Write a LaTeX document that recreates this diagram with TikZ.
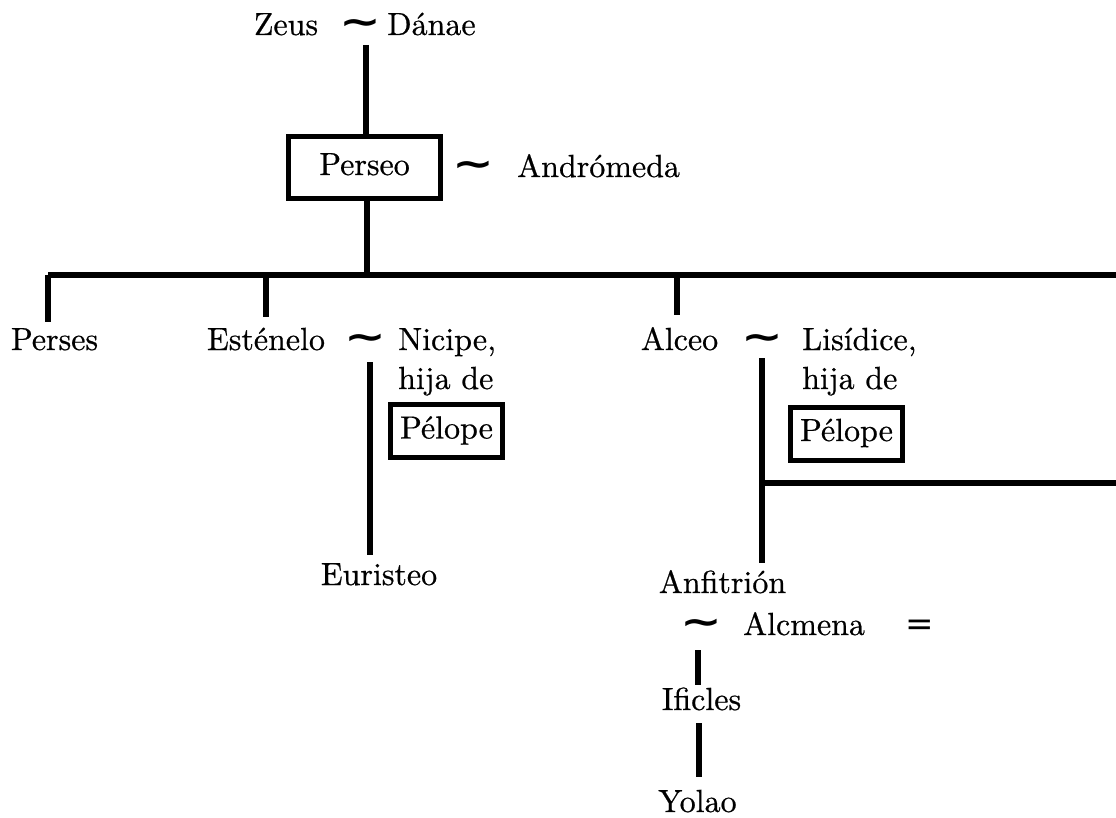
\documentclass[tikz,border=0pt]{standalone}
\usepackage{fontspec}
\newfontfamily\treefont{lmroman10-regular.otf}[FakeBold=0.6]
\newfontfamily\signfont{DejaVu Sans}
% a wide, low tilde marking a union
\newcommand{\wed}{\scalebox{1.35}[1]{∼}}
\begin{document}
\begin{tikzpicture}[x=1pt,y=-1pt,
  person/.style={inner sep=0pt,text height=22pt,text depth=7pt,
    font=\treefont\fontsize{32}{38}\selectfont},
  union/.style={inner sep=0pt,font=\signfont\bfseries\fontsize{37}{42}\selectfont},
  equal/.style={inner sep=0pt,font=\signfont\fontsize{34}{40}\selectfont},
  framed/.style={person,draw,line width=5pt},
  link/.style={line width=5.5pt}]
\useasboundingbox (0,0) rectangle (1116,818);

% Zeus and Danae
\node[person,anchor=base] (zeus) at (286,35) {Zeus};
\node[union] (t0) at (360,27) {\wed};
\node[person,anchor=base west] (danae) at (387,35) {Dánae};
\coordinate (u0) at (366,45);

% Perseo and Andromeda
\node[framed,minimum width=152pt,minimum height=62pt] (perseo) at (364.5,167.5) {Perseo};
\node[union] (t1) at (473,169) {\wed};
\node[person,anchor=base west] (andromeda) at (517,177) {Andrómeda};

% bus of the children of Perseo
\coordinate (busL) at (48,275);
\coordinate (busR) at (1116,275);

\node[person,anchor=base] (perses) at (54.5,350) {Perses};

\node[person,anchor=base] (estenelo) at (266,350) {Esténelo};
\node[union] (t2) at (365,342) {\wed};
\node[person,anchor=base west] (nicipe) at (398,350) {Nicipe,};
\node[person,anchor=base west] (hija1) at (398,389) {hija de};
\node[framed,minimum width=112pt,minimum height=53pt] (pelope1) at (446.5,431) {Pélope};
\coordinate (u2) at (370,362);
\node[person,anchor=base] (euristeo) at (379,585) {Euristeo};

\node[person,anchor=base] (alceo) at (679.5,350) {Alceo};
\node[union] (t3) at (762,342) {\wed};
\node[person,anchor=base west] (lisidice) at (802,350) {Lisídice,};
\node[person,anchor=base west] (hija2) at (802,389) {hija de};
\node[framed,minimum width=112pt,minimum height=53pt] (pelope2) at (846.5,433.5) {Pélope};
\coordinate (u3) at (762,358);
\coordinate (brL) at (762,483);
\coordinate (brR) at (1116,483);

\node[person,anchor=base] (anfitrion) at (722.5,593) {Anfitrión};
\node[union] (t4) at (701,627) {\wed};
\node[person,anchor=base west] (alcmena) at (743,635) {Alcmena};
\node[equal] (eq) at (920,628) {=};
\coordinate (u4) at (698,650);
\node[person,anchor=base] (ificles) at (701.5,710) {Ificles};
\node[person,anchor=base] (yolao) at (697.5,812) {Yolao};

% connectors
\draw[link] (u0) -- (u0 |- perseo.north);
\draw[link] ([xshift=2.5pt]perseo.south) -- ([xshift=2.5pt]perseo.south |- busL);
\draw[link] (busL) -- (busR);
\draw[link] (busL) -- ([yshift=6pt]busL |- perses.north);
\draw[link] (estenelo.north |- busL) -- ([yshift=11pt]estenelo.north);
\draw[link] ([xshift=-2.5pt]alceo.north |- busL) -- ([xshift=-2.5pt,yshift=13pt]alceo.north);
\draw[link] (u2) -- ([yshift=8pt]u2 |- euristeo.north);
\draw[link] (u3) -- ([yshift=8pt]u3 |- anfitrion.north);
\draw[link] (brL) -- (brR);
\draw[link] (u4) -- ([yshift=3pt]u4 |- ificles.north);
\draw[link] ([xshift=-2.5pt,yshift=-6pt]ificles.south) -- ([xshift=1.5pt,yshift=13pt]yolao.north);
\end{tikzpicture}
\end{document}
